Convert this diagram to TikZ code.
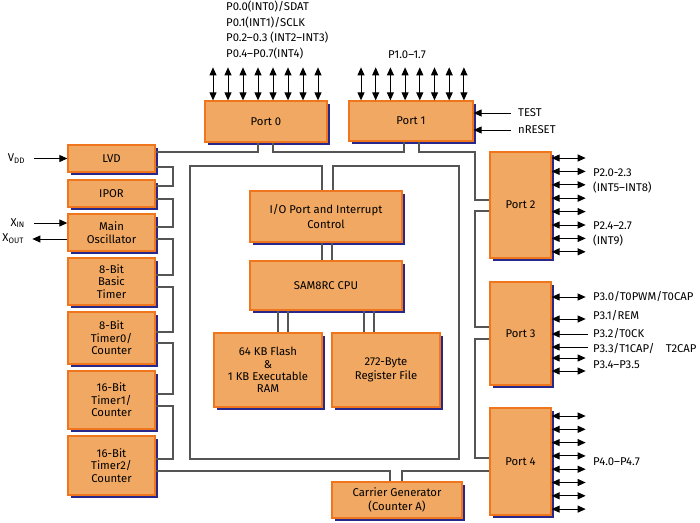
\documentclass[tikz,border=0pt]{standalone}
\usepackage{fontspec}
\setmainfont{Fira Sans}
\usetikzlibrary{arrows.meta,shadows}
\definecolor{boxfill}{RGB}{240,168,98}
\definecolor{boxline}{RGB}{240,118,30}
\definecolor{boxshade}{RGB}{40,40,140}
\definecolor{busline}{RGB}{85,85,85}

\begin{document}
\begin{tikzpicture}[x=1pt,y=-1pt,
  blk/.style={draw=boxline,fill=boxfill,line width=1.3pt,align=center,inner sep=2pt,
    font=\fontsize{11.3}{12.4}\selectfont,
    drop shadow={shadow xshift=3pt,shadow yshift=-3pt,fill=boxshade,opacity=1}},
  wide/.style={font=\fontsize{11.3}{14.5}\selectfont},
  bus/.style={draw=busline,line width=1.1pt},
  lbl/.style={font=\fontsize{11.3}{15}\selectfont,inner sep=0pt},
  >={Triangle[length=8pt,width=7pt]},
  io/.style={<->,line width=1pt},
  sig/.style={line width=1pt}]
\useasboundingbox (0,0) rectangle (700,522);

\node[blk,minimum width=122,minimum height=41] (p0) at (266,121.5) {Port 0};
\node[blk,minimum width=124,minimum height=40] (p1) at (411,121) {Port 1};
\node[blk,minimum width=87,minimum height=27] (lvd) at (111.5,158.5) {LVD};
\node[blk,minimum width=87,minimum height=27] (ipor) at (111.5,193.5) {IPOR};
\node[blk,minimum width=87,minimum height=37] (osc) at (111.5,232.5) {Main\\Oscillator};
\node[blk,minimum width=87,minimum height=47] (btmr) at (111.5,281.5) {8-Bit\\Basic\\Timer};
\node[blk,minimum width=87,minimum height=52] (t0) at (111.5,338) {8-Bit\\Timer0/\\Counter};
\node[blk,minimum width=87,minimum height=58] (t1) at (111.5,400) {16-Bit\\Timer1/\\Counter};
\node[blk,minimum width=87,minimum height=59] (t2) at (111.5,465.5) {16-Bit\\Timer2/\\Counter};
\node[blk,wide,minimum width=152,minimum height=51] (iop) at (326,216.5) {I/O Port and Interrupt\\Control};
\node[blk,minimum width=152,minimum height=49] (cpu) at (326,285.5) {SAM8RC CPU};
\node[blk,minimum width=108,minimum height=74] (flash) at (268,370) {64 KB Flash\\\&\\1 KB Executable\\RAM};
\node[blk,wide,minimum width=108,minimum height=74] (reg) at (386,370) {272-Byte\\Register File};
\node[blk,wide,minimum width=130,minimum height=36] (cg) at (397,500) {Carrier Generator\\(Counter A)};
\node[blk,minimum width=61,minimum height=106] (p2) at (520.5,205) {Port 2};
\node[blk,minimum width=61,minimum height=103] (p3) at (520.5,333.5) {Port 3};
\node[blk,minimum width=61,minimum height=107] (p4) at (520.5,461.5) {Port 4};

\draw[bus] (iop.north -| 333,0) |- (459,166) |- (190,459) |- (322,166) -- (iop.north -| 322,0);
\draw[bus] (lvd.east |- 0,152) -| (p0.south -| 258,0);
\draw[bus] (p0.south -| 273,0) |- (404,152) -- (p1.south -| 404,0);
\draw[bus] (p1.south -| 419,0) |- (475,152) |- (p2.west |- 0,200);
\draw[bus] (p2.west |- 0,211) -| (475,327) -- (p3.west |- 0,327);
\draw[bus] (p3.west |- 0,339) -| (475,458) -- (p4.west |- 0,458);
\draw[bus] (t2.east |- 0,471) -| (cg.north -| 390,0);
\draw[bus] (cg.north -| 402,0) |- (p4.west |- 0,471);
\draw[bus] (lvd.east |- 0,167) -| (173,186) -- (ipor.east |- 0,186);
\draw[bus] (ipor.east |- 0,199) -| (173,227) -- (osc.east |- 0,227);
\draw[bus] (osc.east |- 0,239) -| (173,275) -- (btmr.east |- 0,275);
\draw[bus] (btmr.east |- 0,287) -| (173,332) -- (t0.east |- 0,332);
\draw[bus] (t0.east |- 0,343) -| (173,394) -- (t1.east |- 0,394);
\draw[bus] (t1.east |- 0,406) -| (173,459) -- (t2.east |- 0,459);
\foreach \x in {322,332} \draw[bus] (iop.south -| \x,0) -- (cpu.north -| \x,0);
\foreach \x in {278,288} \draw[bus] (cpu.south -| \x,0) -- (flash.north -| \x,0);
\foreach \x in {364,374} \draw[bus] (cpu.south -| \x,0) -- (reg.north -| \x,0);

\foreach \x in {213,228,...,318} \draw[io] (p0.north -| \x,0) -- ++(0,-33);
\foreach \i [evaluate=\i as \x using 361+14.7*\i] in {0,...,7} \draw[io] (p1.north -| \x,0) -- ++(0,-33);
\foreach \i [evaluate=\i as \y using 158+13.4*\i] in {0,...,7} \draw[io] (p2.east |- 0,\y) -- ++(34,0);
\foreach \i [evaluate=\i as \y using 416+13.3*\i] in {0,...,7} \draw[io] (p4.east |- 0,\y) -- ++(34,0);
\foreach \y in {297,319,358,371} \draw[io] (p3.east |- 0,\y) -- ++(34,0);
\foreach \y in {334,347} \draw[sig,<-] (p3.east |- 0,\y) -- ++(36,0);

\draw[sig,<-] (p1.east |- 0,113) -- ++(37,0) node[lbl,right=7pt] (test) {TEST};
\draw[sig,<-] (p1.east |- 0,130) -- ++(37,0) node[lbl,right=7pt] (nrst) {nRESET};
\draw[sig,<-] (lvd.west) -- ++(-33,0) node[lbl,left=9pt] (vdd) {V\textsubscript{DD}};
\draw[sig,<-] (osc.west |- 0,223) -- ++(-33,0) node[lbl,left=9pt] (xin) {X\textsubscript{IN}};
\draw[sig,->] (osc.west |- 0,239) -- ++(-35,0) node[lbl,left=8pt] (xout) {X\textsubscript{OUT}};

\node[lbl,align=left,anchor=west,font=\fontsize{11.3}{15.5}\selectfont] (p0pins) at (226,30)
  {P0.0(INT0)/SDAT\\P0.1(INT1)/SCLK\\P0.2–0.3 (INT2–INT3)\\P0.4–P0.7(INT4)};
\node[lbl] (p1pins) at (407,55) {P1.0–1.7};
\node[lbl,align=left,anchor=west] (p2lo) at (593,180.5) {P2.0-2.3\\(INT5–INT8)};
\node[lbl,align=left,anchor=west] (p2hi) at (593,234) {P2.4–2.7\\(INT9)};
\node[lbl,anchor=west] (p30) at (593,297) {P3.0/T0PWM/T0CAP};
\node[lbl,anchor=west] (p31) at (593,316) {P3.1/REM};
\node[lbl,anchor=west] (p32) at (593,334) {P3.2/T0CK};
\node[lbl,anchor=west] (p33) at (593,349) {P3.3/T1CAP/\quad T2CAP};
\node[lbl,anchor=west] (p34) at (593,365) {P3.4–P3.5};
\node[lbl,anchor=west] (p4pins) at (593,462) {P4.0–P4.7};
\end{tikzpicture}
\end{document}
